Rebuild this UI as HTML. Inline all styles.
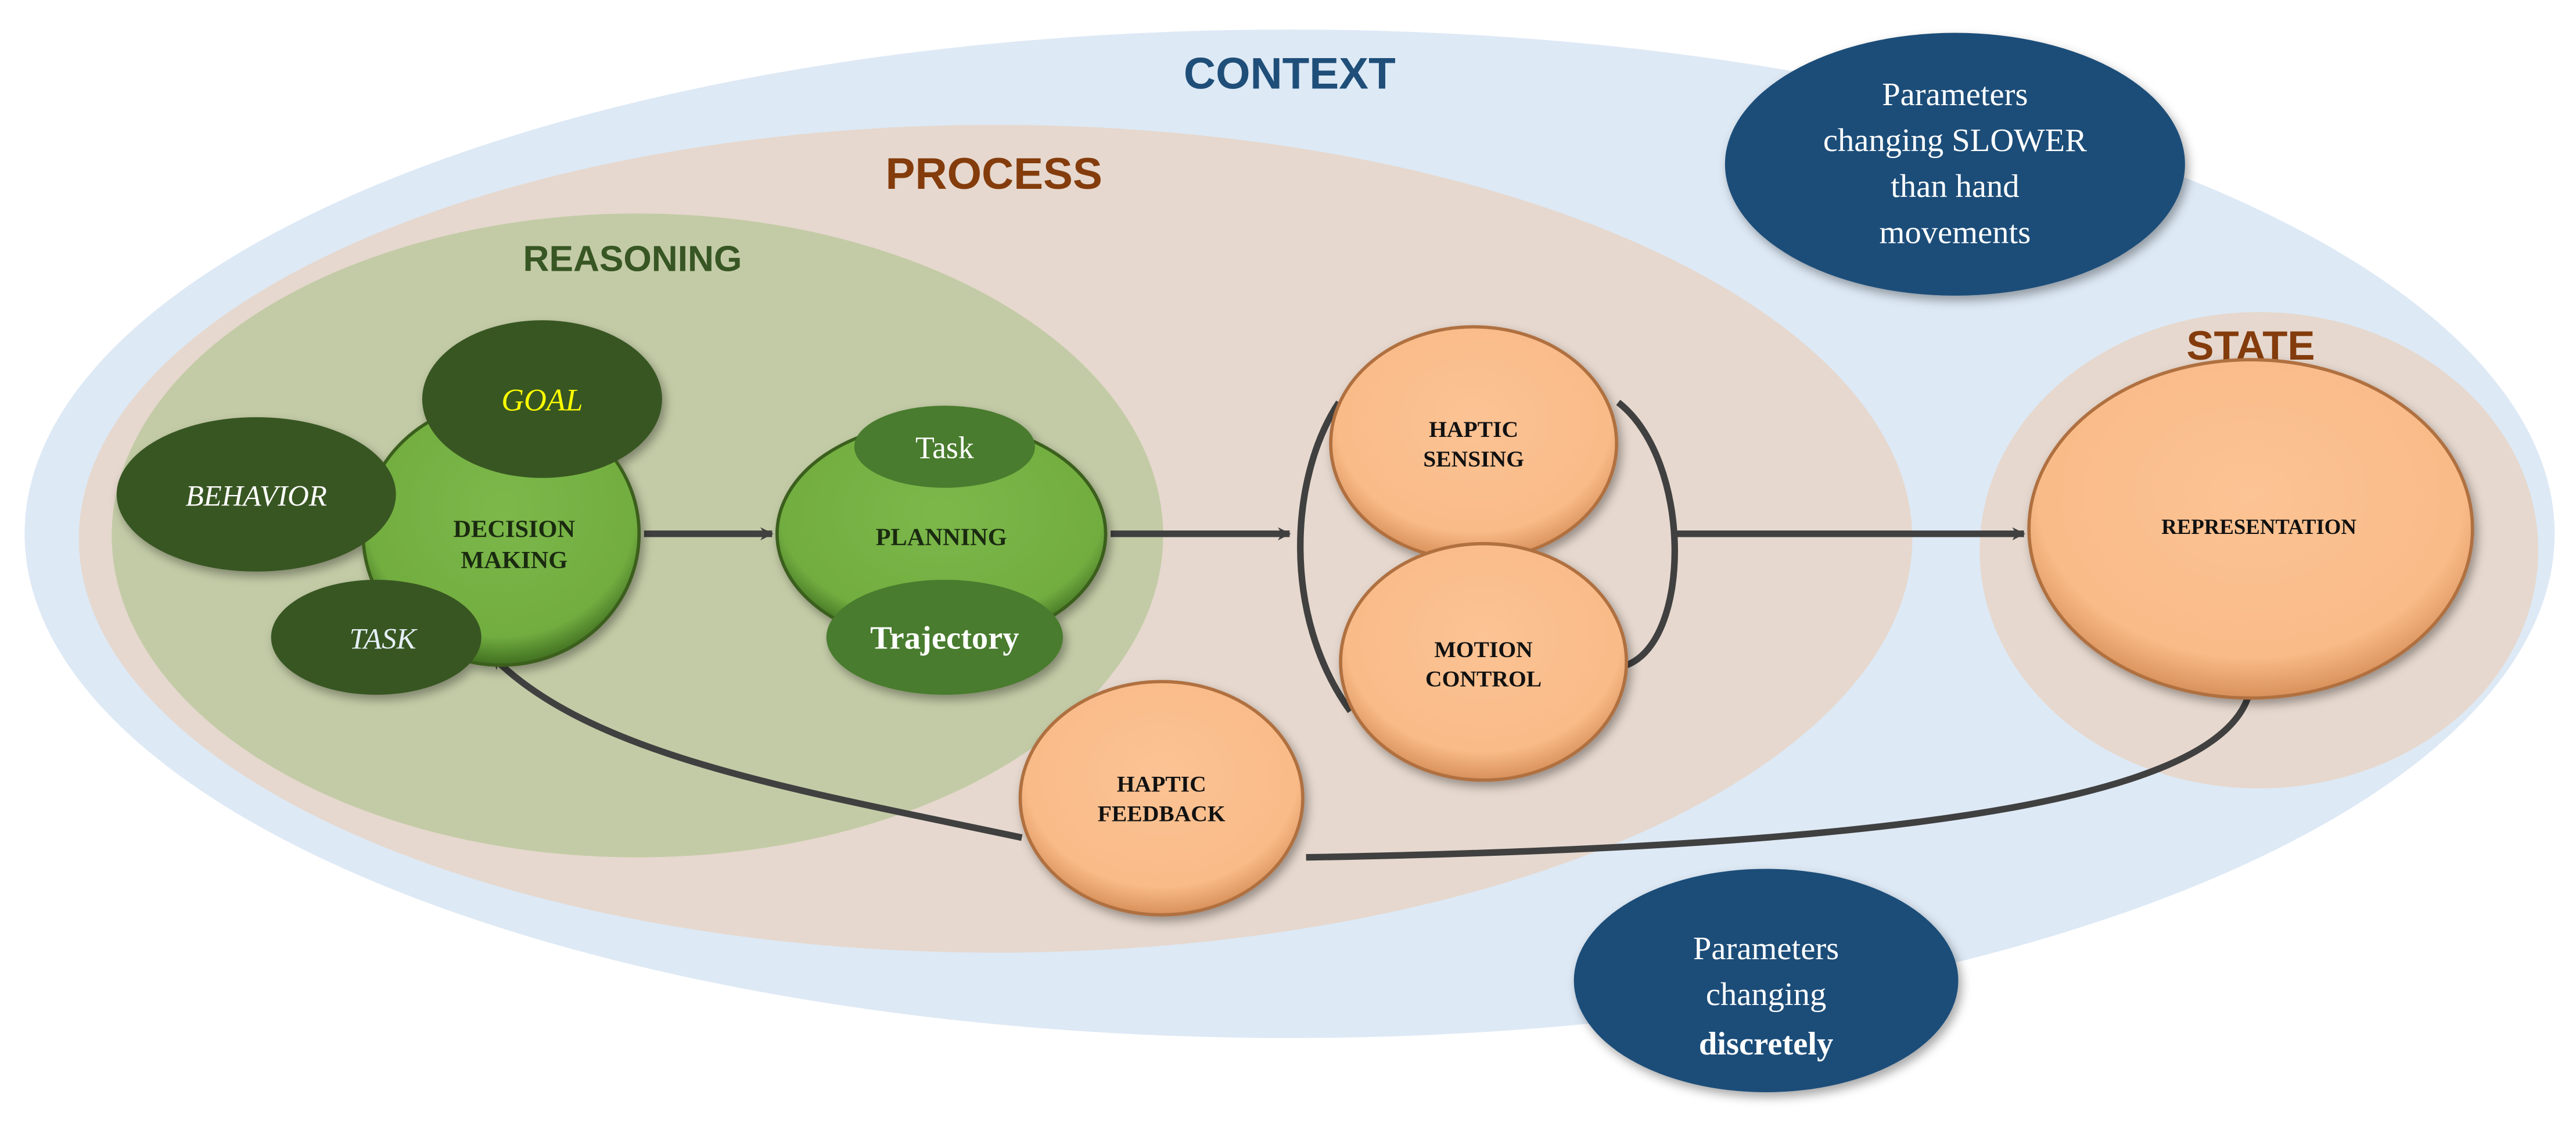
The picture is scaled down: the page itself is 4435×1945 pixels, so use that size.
<!DOCTYPE html>
<html><head><meta charset="utf-8"><style>
html,body{margin:0;padding:0;background:#fff;}
svg{display:block;}
</style></head><body>
<svg width="4435" height="1945" viewBox="0 0 1568 688" preserveAspectRatio="none" xmlns="http://www.w3.org/2000/svg">
<defs>
<radialGradient id="og" cx="50%" cy="40%" r="60%">
<stop offset="0" stop-color="#fcc394"/><stop offset="0.8" stop-color="#f9bb88"/><stop offset="1" stop-color="#d8905a"/>
</radialGradient>
<radialGradient id="gg" cx="50%" cy="40%" r="60%">
<stop offset="0" stop-color="#7cb84a"/><stop offset="0.82" stop-color="#72ad40"/><stop offset="1" stop-color="#3f6e20"/>
</radialGradient>
<filter id="sh" x="-20%" y="-20%" width="140%" height="140%"><feDropShadow dx="2" dy="3" stdDeviation="3" flood-opacity="0.35"/></filter>
<marker id="ar" viewBox="0 0 20 20" refX="18" refY="10" markerWidth="8" markerHeight="8" orient="auto" markerUnits="userSpaceOnUse">
<path d="M0,0 L20,10 L0,20 L6,10 Z" fill="#404040"/></marker>
</defs>
<ellipse cx="785" cy="325" rx="770" ry="307" fill="#dde9f5"/>
<ellipse cx="606" cy="328" rx="558" ry="252" fill="#e6d8ce"/>
<ellipse cx="388" cy="326" rx="320" ry="196" fill="#c3cba6"/>
<ellipse cx="1375" cy="335" rx="170" ry="145" fill="#e6d8ce"/>
<g font-family="Liberation Sans, sans-serif" font-weight="bold" text-anchor="middle">
<text x="785" y="54" font-size="27" fill="#1f4e79">CONTEXT</text>
<text x="605" y="115" font-size="27" fill="#843c0c">PROCESS</text>
<text x="385" y="165" font-size="22" fill="#375623">REASONING</text>
<text x="1370" y="219" font-size="25" fill="#843c0c">STATE</text>
</g>
<!-- connectors -->
<g fill="none" stroke="#404040" stroke-width="4">
<path d="M392,325 L470,325" marker-end="url(#ar)"/>
<path d="M676,325 L785,325" marker-end="url(#ar)"/>
<path d="M1018,325 L1232,325" marker-end="url(#ar)"/>
<path d="M815,245 C785,290 780,375 822,433"/>
<path d="M985,245 C1030,280 1030,390 990,405"/>
<path d="M1370,418 C1360,480 1200,515 795,522"/>
<path d="M622,510 C480,480 360,460 300,400" marker-end="url(#ar)"/>
</g>
<!-- dark blue bubbles -->
<g filter="url(#sh)" fill="#1f4e79">
<ellipse cx="1190" cy="100" rx="140" ry="80"/>
<ellipse cx="1075" cy="597" rx="117" ry="68"/>
</g>
<g font-family="Liberation Serif, serif" fill="#fff" font-size="20" text-anchor="middle">
<text x="1190" y="64">Parameters</text>
<text x="1190" y="92">changing  SLOWER</text>
<text x="1190" y="120">than hand</text>
<text x="1190" y="148">movements</text>
<text x="1075" y="584">Parameters</text>
<text x="1075" y="612">changing</text>
<text x="1075" y="642" font-weight="bold">discretely</text>
</g>
<!-- green nodes -->
<g filter="url(#sh)">
<ellipse cx="305" cy="325" rx="84" ry="80" fill="url(#gg)" stroke="#3a5f1f" stroke-width="2"/>
<ellipse cx="330" cy="243" rx="73" ry="48" fill="#375623"/>
<ellipse cx="156" cy="301" rx="85" ry="47" fill="#375623"/>
<ellipse cx="229" cy="388" rx="64" ry="35" fill="#375623"/>
<ellipse cx="573" cy="325" rx="100" ry="68" fill="url(#gg)" stroke="#3a5f1f" stroke-width="2"/>
<ellipse cx="575" cy="272" rx="55" ry="25" fill="#4a7b2e"/>
<ellipse cx="575" cy="388" rx="72" ry="35" fill="#4a7b2e"/>
</g>
<g font-family="Liberation Serif, serif" text-anchor="middle" font-weight="bold">
<text x="313" y="327" font-size="15" fill="#1a2a10">DECISION</text>
<text x="313" y="346" font-size="15" fill="#1a2a10">MAKING</text>
<text x="330" y="250" font-size="19" fill="#ffff00" font-style="italic" font-weight="normal">GOAL</text>
<text x="156" y="308" font-size="18" fill="#fff" font-style="italic" font-weight="normal">BEHAVIOR</text>
<text x="233" y="395" font-size="18" fill="#e6f0f8" font-style="italic" font-weight="normal">TASK</text>
<text x="573" y="332" font-size="15" fill="#1a2a10">PLANNING</text>
<text x="575" y="279" font-size="19" fill="#fff" font-weight="normal">Task</text>
<text x="575" y="395" font-size="20" fill="#fff">Trajectory</text>
</g>
<!-- orange nodes -->
<g filter="url(#sh)" fill="url(#og)" stroke="#b07040" stroke-width="2">
<ellipse cx="897" cy="270" rx="87" ry="71"/>
<ellipse cx="903" cy="403" rx="87" ry="72"/>
<ellipse cx="1370" cy="322" rx="135" ry="103"/>
<ellipse cx="707" cy="486" rx="86" ry="71"/>
</g>
<g font-family="Liberation Serif, serif" text-anchor="middle" font-weight="bold" fill="#111" font-size="14">
<text x="897" y="266">HAPTIC</text>
<text x="897" y="284">SENSING</text>
<text x="903" y="400">MOTION</text>
<text x="903" y="418">CONTROL</text>
<text x="707" y="482">HAPTIC</text>
<text x="707" y="500">FEEDBACK</text>
<text x="1375" y="325" font-size="13">REPRESENTATION</text>
</g>
</svg>
</body></html>
